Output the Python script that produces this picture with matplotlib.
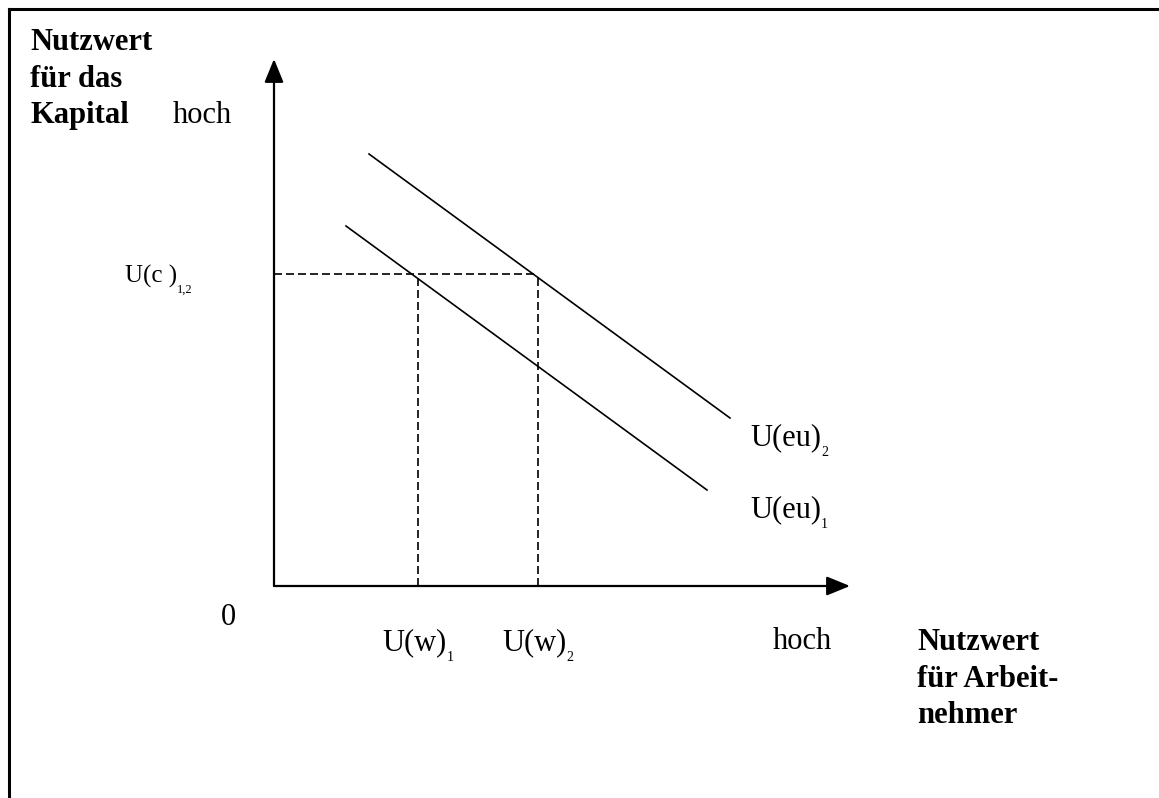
import matplotlib.pyplot as plt
from matplotlib.lines import Line2D

plt.rcParams['font.family'] = ['Liberation Serif', 'DejaVu Serif']

# diagram values (origin of the two axes at 0,0)
x_axis_end = 5.76
y_axis_end = 5.27

# indifference-type lines U(eu)_1 and U(eu)_2: [x_start, x_end], [y_start, y_end]
eu1_x = [0.72, 4.33]
eu1_y = [3.60, 0.96]
eu2_x = [0.95, 4.56]
eu2_y = [4.32, 1.68]

uw_values = [1.44, 2.64]
uw_labels = ['1', '2']
uc_value = 3.12

fig = plt.figure(figsize=(11.59, 7.98), dpi=100)
ax = fig.add_axes([0, 0, 1, 1])
ax.set_xlim(-2.74, 8.85)
ax.set_ylim(-2.12, 5.86)
ax.axis('off')

# frame (left + top edge only)
ax.add_line(Line2D([0.0078, 0.0078], [0, 0.9887], transform=ax.transAxes, color='black', lw=2.2))
ax.add_line(Line2D([0.0078, 1], [0.9887, 0.9887], transform=ax.transAxes, color='black', lw=2.2))

# axes with arrows
arrow = dict(arrowstyle='-|>,head_length=1.1,head_width=0.45', color='black', lw=1.6,
             shrinkA=0, shrinkB=0, mutation_scale=13)
ax.annotate('', xy=(0, y_axis_end), xytext=(0, 0), arrowprops=arrow)
ax.annotate('', xy=(x_axis_end, 0), xytext=(0, 0), arrowprops=arrow)

# the two lines
ax.plot(eu1_x, eu1_y, color='black', lw=1.2)
ax.plot(eu2_x, eu2_y, color='black', lw=1.2)

# dashed guides
dash = dict(color='black', lw=1.2, dashes=(4.8, 2.4))
ax.plot([0, max(uw_values)], [uc_value, uc_value], **dash)
for u in uw_values:
    ax.plot([u, u], [0, uc_value], **dash)

fs = 22
sub = 10


def label_with_sub(x, y, main, s, size=fs, subsize=sub, ha='left', dy=-3):
    t = ax.text(x, y, main, fontsize=size, ha=ha, va='baseline')
    ax.annotate(s, xy=(1, 0), xycoords=t, xytext=(0, dy), textcoords='offset points',
                fontsize=subsize, ha='left', va='baseline')
    return t


# axis titles
for yy, line in zip([5.36, 4.99, 4.63], ['Nutzwert', 'für das', 'Kapital']):
    ax.text(-2.44, yy, line, fontsize=fs, fontweight='bold', va='baseline')
for yy, line in zip([-0.64, -1.01, -1.37], ['Nutzwert', 'für Arbeit-', 'nehmer']):
    ax.text(6.43, yy, line, fontsize=fs, fontweight='bold', va='baseline')

ax.text(-1.01, 4.63, 'hoch', fontsize=fs, va='baseline')
ax.text(4.99, -0.63, 'hoch', fontsize=fs, va='baseline')
ax.text(-0.53, -0.39, '0', fontsize=fs, va='baseline')

label_with_sub(-1.49, 3.03, 'U(c )', '1,2', size=18, subsize=9, dy=-3)
for u, s in zip(uw_values, uw_labels):
    label_with_sub(u - 0.36, -0.64, 'U(w)', s)
label_with_sub(4.76, 1.41, 'U(eu)', '2')
label_with_sub(4.76, 0.69, 'U(eu)', '1')

fig.savefig('out.png', dpi=100)
